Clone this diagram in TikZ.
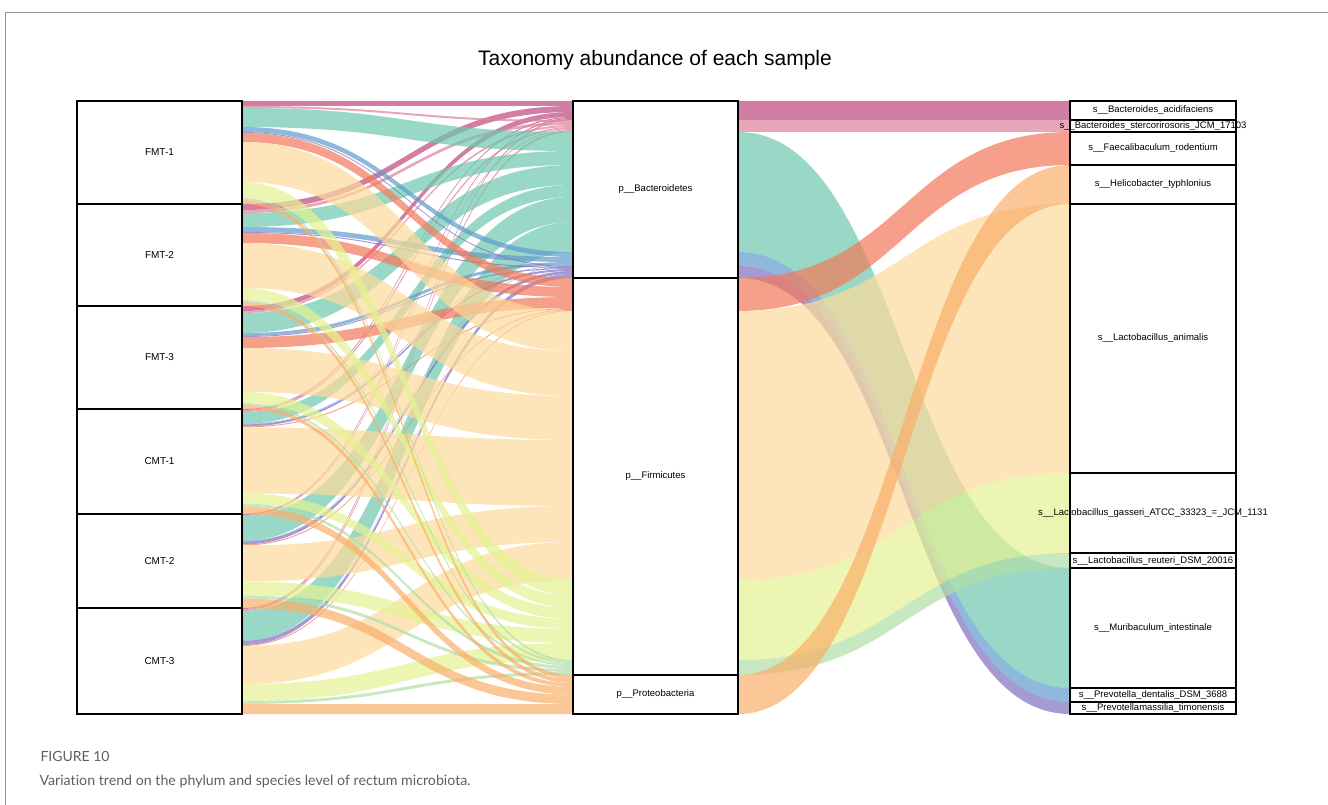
\documentclass[tikz,border=0pt]{standalone}
\usepackage{fontspec}
\setmainfont{Liberation Sans}
\newfontfamily\capfont[Ligatures=NoCommon]{Lato}
\usetikzlibrary{positioning}
\definecolor{cAcid}{RGB}{190,70,125}
\definecolor{cSterc}{RGB}{222,130,155}
\definecolor{cMuri}{RGB}{110,200,175}
\definecolor{cPdent}{RGB}{95,155,205}
\definecolor{cPmass}{RGB}{130,110,190}
\definecolor{cFaec}{RGB}{242,120,90}
\definecolor{cAnim}{RGB}{253,218,155}
\definecolor{cGass}{RGB}{228,242,145}
\definecolor{cReut}{RGB}{175,222,165}
\definecolor{cHelico}{RGB}{250,175,105}
\definecolor{framegray}{RGB}{150,150,150}
\definecolor{capgray}{RGB}{95,95,95}
\tikzset{
    stratum/.style={draw=black, line width=1.3pt, fill=white, inner sep=0pt, minimum width=165pt},
    band/.style={fill opacity=0.7},
    smp/.style={font=\fontsize{10}{11}\selectfont},
    tax/.style={font=\fontsize{9.5}{11}\selectfont, inner sep=0pt}
}
% one ribbon: x1, y1, x2, y2, height, colour
\def\flowband#1#2#3#4#5#6{
    \pgfmathsetmacro\xm{0.5*(#1+#3)}
    \fill[band, #6] ({#1},{#2}) .. controls (\xm,{#2}) and (\xm,{#4}) .. ({#3},{#4})
        -- ({#3},{#4+#5}) .. controls (\xm,{#4+#5}) and (\xm,{#2+#5}) .. ({#1},{#2+#5}) -- cycle;
}
% abundance per sample (rows) and species (columns)
\def\abund{{5,2,19,5,1,9,40,16,2,4,
            6,3,14,5,1,10,45,12,2,4,
            5,2,20,3,1,11,44,11,2,4,
            1,2,12,0.5,2,1,66,10,3,7.5,
            1,1,25,0.5,3,1,36,14,3,9.5,
            1,2,30,0,4,1,38,17,3,10}}

\begin{document}
\begin{tikzpicture}[x=1pt, y=-1pt]
    \useasboundingbox (0,0) rectangle (1328,805);
    \draw[framegray, line width=1pt] (5,805) -- (5,12.5) -- (1328,12.5);

    \node[font=\fontsize{21}{24}\selectfont] (title) at (655,60) {Taxonomy abundance of each sample};

    % samples -> phylum
    \foreach \j/\yt in {0/101,1/204,2/306,3/409,4/514,5/608}
        {\expandafter\xdef\csname topL\j\endcsname{\yt}}
    \xdef\cumM{101}
    \foreach \s/\col in {0/cAcid,1/cSterc,2/cMuri,3/cPdent,4/cPmass,5/cFaec,6/cAnim,7/cGass,8/cReut,9/cHelico}{
        \foreach \j in {0,...,5}{
            \pgfmathsetmacro\hgt{\abund[\j*10+\s]}
            \edef\ya{\csname topL\j\endcsname}
            \flowband{242}{\ya}{573}{\cumM}{\hgt}{\col}
            \pgfmathsetmacro\yn{\ya+\hgt}
            \expandafter\xdef\csname topL\j\endcsname{\yn}
            \pgfmathsetmacro\yn{\cumM+\hgt}
            \xdef\cumM{\yn}
        }
    }

    % phylum -> species
    \foreach \ym/\yr/\hgt/\col in {101/101/19/cAcid, 120/120/12/cSterc, 132/568/120/cMuri,
        252/688/14/cPdent, 266/702/12/cPmass, 278/132/33/cFaec, 311/204/269/cAnim,
        580/473/80/cGass, 660/553/15/cReut, 675/165/39/cHelico}
        {\flowband{738}{\ym}{1070}{\yr}{\hgt}{\col}}

    \node[stratum, smp, minimum height=103pt] (fmt1) at (159.5,152.5) {FMT-1};
    \node[stratum, smp, minimum height=102pt] (fmt2) at (159.5,255) {FMT-2};
    \node[stratum, smp, minimum height=103pt] (fmt3) at (159.5,357.5) {FMT-3};
    \node[stratum, smp, minimum height=105pt] (cmt1) at (159.5,461.5) {CMT-1};
    \node[stratum, smp, minimum height=94pt] (cmt2) at (159.5,561) {CMT-2};
    \node[stratum, smp, minimum height=106pt] (cmt3) at (159.5,661) {CMT-3};

    \node[stratum, tax, minimum height=177pt] (bact) at (655.5,189.5) {p\_\_Bacteroidetes};
    \node[stratum, tax, minimum height=397pt] (firm) at (655.5,476.5) {p\_\_Firmicutes};
    \node[stratum, tax, minimum height=39pt] (prot) at (655.5,694.5) {p\_\_Proteobacteria};

    \foreach \nm/\yc/\hgt/\txt in {acid/110.5/19/s\_\_Bacteroides\_acidifaciens,
        sterc/126/12/s\_\_Bacteroides\_stercorirosoris\_JCM\_17103,
        faec/148.5/33/s\_\_Faecalibaculum\_rodentium,
        helico/184.5/39/s\_\_Helicobacter\_typhlonius,
        anim/338.5/269/s\_\_Lactobacillus\_animalis,
        gass/513/80/s\_\_Lactobacillus\_gasseri\_ATCC\_33323\_=\_JCM\_1131,
        reut/560.5/15/s\_\_Lactobacillus\_reuteri\_DSM\_20016,
        muri/628/120/s\_\_Muribaculum\_intestinale,
        pdent/695/14/s\_\_Prevotella\_dentalis\_DSM\_3688,
        pmass/708/12/s\_\_Prevotellamassilia\_timonensis}
        {\node[stratum, minimum width=166pt, minimum height=\hgt pt,
            label={[tax]center:\txt}] (\nm) at (1153,\yc) {};}

    \node[capgray, font=\capfont\fontsize{14}{16}\selectfont, anchor=west] (fig) at (37,756) {FIGURE 10};
    \node[capgray, font=\capfont\fontsize{14.2}{17}\selectfont, anchor=west] (cap) at (36,781)
        {Variation trend on the phylum and species level of rectum microbiota.};
\end{tikzpicture}
\end{document}
